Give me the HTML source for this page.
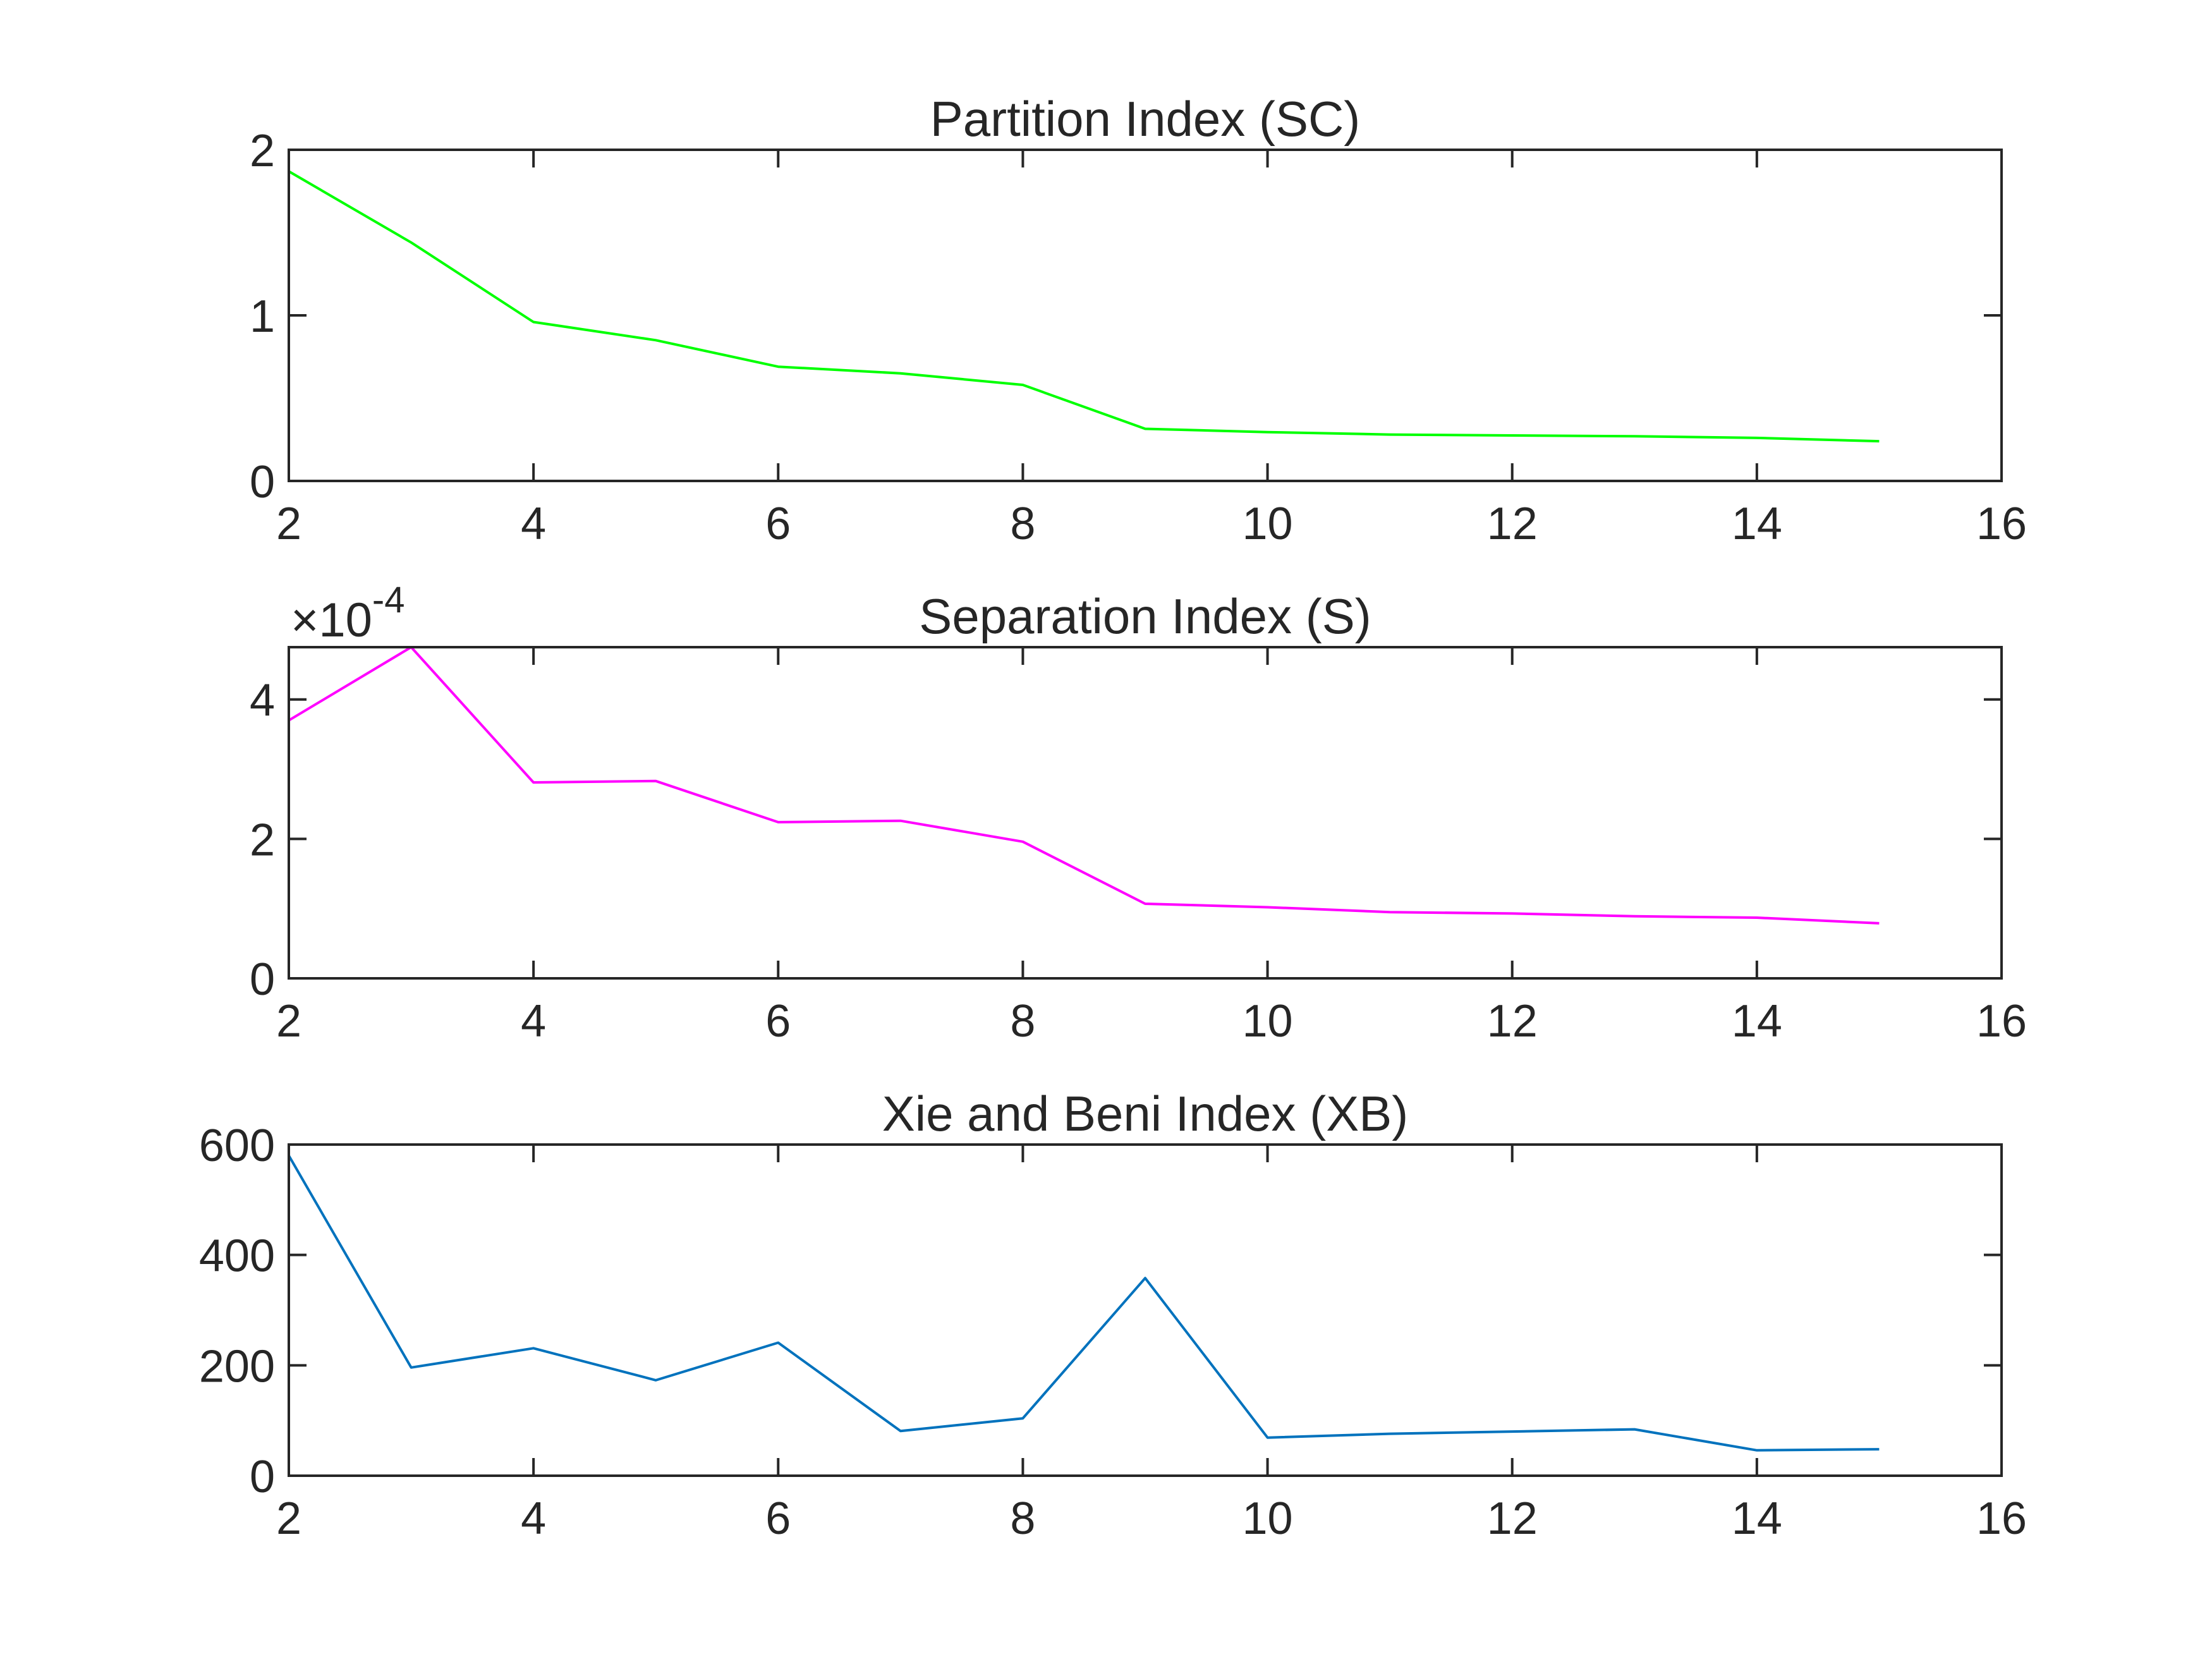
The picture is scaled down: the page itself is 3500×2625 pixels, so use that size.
<!DOCTYPE html>
<html><head><meta charset="utf-8"><style>
html,body{margin:0;padding:0;background:#fff;}
svg{display:block;}
text{font-family:"Liberation Sans",Arial,sans-serif;fill:#262626;}
</style></head><body>
<svg id="fig" width="3500" height="2625" viewBox="0 0 3500 2625" xmlns="http://www.w3.org/2000/svg"></svg>
<script>
const xValues = [2,3,4,5,6,7,8,9,10,11,12,13,14,15];
const scValues = [1.87,1.44,0.96,0.85,0.69,0.65,0.58,0.315,0.295,0.28,0.275,0.27,0.26,0.24];
const sValues = [3.70,4.75,2.81,2.83,2.24,2.26,1.96,1.07,1.02,0.95,0.93,0.89,0.87,0.79];
const xbValues = [580,196,231,173,241,81,104,358,69,76,80,84,46,48];
const xTicks = [2,4,6,8,10,12,14,16];
const scTicks = [0,1,2];
const sTicks = [0,2,4];
const xbTicks = [0,200,400,600];
const titles = ["Partition Index (SC)","Separation Index (S)","Xie and Beni Index (XB)"];

const NS = "http://www.w3.org/2000/svg";
const svg = document.getElementById('fig');
function mk(tag, attrs, parent){
  const e = document.createElementNS(NS, tag);
  for (const k in attrs) e.setAttribute(k, attrs[k]);
  (parent||svg).appendChild(e);
  return e;
}
const L = 457, R = 3167, H = 524;
const panels = [
  {top:237, ymax:2, ticks:scTicks, data:scValues, color:'#00ff00', name:'sc'},
  {top:1024, ymax:4.75, ticks:sTicks, data:sValues, color:'#ff00ff', name:'s'},
  {top:1811, ymax:600, ticks:xbTicks, data:xbValues, color:'#0072bd', name:'xb'}
];
panels.forEach((p, i) => {
  const g = mk('g', {});
  
  
  const bot = p.top + H;
  const sx = v => L + (v - 2) / 14 * (R - L);
  const sy = v => bot - v / p.ymax * H;
  const pts = p.data.map((v, j) => sx(xValues[j]).toFixed(1) + ',' + sy(v).toFixed(1)).join(' ');
  const line = mk('polyline', {points: pts, fill: 'none', stroke: p.color, 'stroke-width': 4, 'stroke-linejoin': 'round'}, g);
  
  
  const box = mk('rect', {x: L, y: p.top, width: R - L, height: H, fill: 'none', stroke: '#262626', 'stroke-width': 4}, g);
  
  
  xTicks.forEach(t => {
    const x = sx(t);
    mk('line', {x1: x, y1: bot, x2: x, y2: bot - 28, stroke: '#262626', 'stroke-width': 4}, g);
    mk('line', {x1: x, y1: p.top, x2: x, y2: p.top + 28, stroke: '#262626', 'stroke-width': 4}, g);
    const tx = mk('text', {x: x, y: bot + 92, 'font-size': 72, 'text-anchor': 'middle'}, g);
    tx.textContent = t;
    
    
  });
  p.ticks.forEach(t => {
    const y = sy(t);
    mk('line', {x1: L, y1: y, x2: L + 28, y2: y, stroke: '#262626', 'stroke-width': 4}, g);
    mk('line', {x1: R, y1: y, x2: R - 28, y2: y, stroke: '#262626', 'stroke-width': 4}, g);
    const ty = mk('text', {x: 435, y: y + 26, 'font-size': 72, 'text-anchor': 'end'}, g);
    ty.textContent = t;
    
    
  });
  const tt = mk('text', {x: (L + R) / 2, y: p.top - 22, 'font-size': 78, 'text-anchor': 'middle'}, g);
  tt.textContent = titles[i];
  
  
});
const ex = mk('text', {x: 460, y: 1007, 'font-size': 76});


ex.textContent = '\u00d710';
const sup = mk('tspan', {dy: -38, 'font-size': 58}, ex);
sup.textContent = '-4';
</script>
</body></html>
